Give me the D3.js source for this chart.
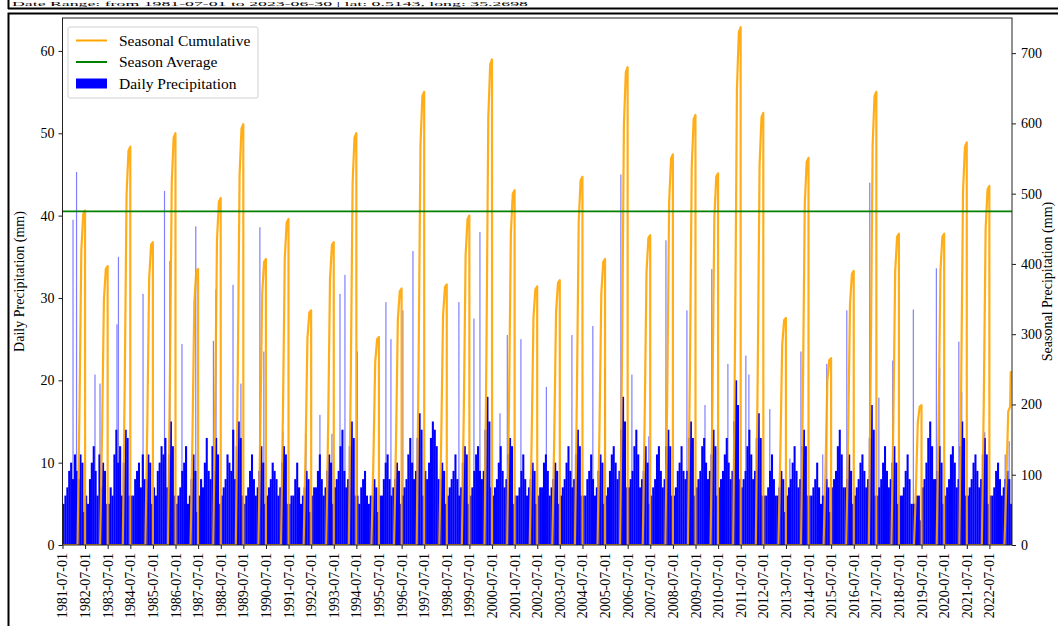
<!DOCTYPE html>
<html>
<head>
<meta charset="utf-8">
<script src="https://cdn.jsdelivr.net/npm/d3@7"></script>
<style>
  body { margin: 0; background: #fff; }
  svg { display: block; }
  text { font-family: "Liberation Serif", "Times New Roman", serif; fill: #000; }
</style>
</head>
<body>
<svg id="chart" width="1058" height="626"></svg>
<script>
// Seasonal (Mar-Jun) cumulative precipitation, mm; each season resets on 1 July of its year
const seasonYears = [1982,1983,1984,1985,1986,1987,1988,1989,1990,1991,1992,1993,1994,1995,1996,1997,1998,1999,2000,2001,2002,2003,2004,2005,2006,2007,2008,2009,2010,2011,2012,2013,2014,2015,2016,2017,2018,2019,2020,2021,2022];
const cumEndMar = [190,159,227,172,234,157,198,240,163,186,134,172,234,118,146,258,148,188,276,202,147,151,210,163,272,176,222,245,212,295,246,129,220,106,156,258,177,80,177,229,204];
const cumEndApr = [419,349,499,379,516,346,435,527,358,408,294,379,516,260,321,568,326,413,608,444,324,332,461,358,598,388,489,539,466,649,541,284,485,234,343,568,390,175,390,504,450];
const cumEndMay = [471,393,561,427,580,389,489,593,403,459,331,427,580,293,361,639,367,464,684,500,364,373,519,403,673,437,550,606,524,730,609,320,545,263,386,639,439,197,439,567,506];
const seasonTotals = [476,397,567,431,586,393,494,599,407,464,334,431,586,296,365,645,371,469,691,505,368,377,524,407,680,441,556,612,529,737,615,323,551,266,390,645,443,199,443,573,511];
// 2023 season, where the record stops at the end of June
const lastSeason = { endMar: 90, endApr: 190, endMay: 197, midJun: 246, total: 246 };

// Densest daily precipitation per month, mm (rows: Jul..Jun hydrological years 1981/82 .. 2022/23)
const monthlyBulk = [
  [5,6,7,9,10,8,11,9,8,11,10,4],
  [6,5,8,10,12,9,6,11,7,10,9,5],
  [5,7,6,11,14,10,12,6,10,14,13,6],
  [6,6,8,9,10,7,11,8,8,11,10,5],
  [7,6,9,10,12,11,13,7,11,15,12,6],
  [5,6,7,9,10,12,5,6,8,11,9,4],
  [6,8,7,10,13,9,8,12,9,13,11,5],
  [6,7,8,11,10,9,14,8,12,15,13,6],
  [5,6,7,9,11,8,6,7,9,12,10,5],
  [6,7,8,10,9,8,6,7,10,12,11,5],
  [5,6,6,8,10,7,5,6,7,9,8,4],
  [6,7,7,9,11,8,6,7,9,11,10,5],
  [7,8,9,12,14,9,7,8,12,15,13,6],
  [6,5,7,8,9,6,5,6,6,8,7,4],
  [6,6,8,10,11,8,6,7,8,10,9,5],
  [6,7,8,11,13,10,8,9,13,16,14,6],
  [9,8,10,13,15,14,12,8,8,10,9,5],
  [6,7,8,9,11,8,6,7,10,12,11,5],
  [6,7,9,11,12,9,8,9,14,18,15,7],
  [6,7,8,10,12,9,7,8,11,13,12,5],
  [6,6,7,9,11,8,6,7,8,10,9,5],
  [6,7,7,10,11,9,6,7,8,10,9,5],
  [6,7,8,10,12,9,7,8,11,14,12,6],
  [6,6,8,9,11,8,6,7,9,11,10,5],
  [6,7,9,11,12,10,8,9,14,18,15,7],
  [7,8,9,12,14,11,7,8,9,12,10,5],
  [6,7,8,11,12,9,7,8,12,14,12,6],
  [6,7,9,10,12,9,8,9,13,15,13,6],
  [7,8,9,12,13,10,8,9,11,14,12,6],
  [7,8,9,11,13,10,8,9,15,20,17,8],
  [7,8,9,12,14,11,8,9,13,16,13,6],
  [6,6,7,9,11,8,6,6,7,9,8,4],
  [6,7,8,10,12,9,7,8,12,14,12,6],
  [6,6,7,8,10,7,5,6,6,8,7,4],
  [7,8,9,12,14,11,7,7,8,11,9,5],
  [6,7,8,10,11,9,7,8,13,17,14,6],
  [6,7,8,10,12,9,7,8,10,12,10,5],
  [6,6,7,9,11,8,5,5,5,6,6,3],
  [7,8,10,13,15,12,8,8,9,12,10,5],
  [6,7,8,11,12,10,7,8,12,15,13,6],
  [6,7,8,10,11,9,7,8,11,13,11,5],
  [6,6,7,9,10,8,6,7,8,9,8,5]
];

// Heaviest single days, mm
const stormDates = ["1981-12-18","1982-02-13","1982-12-08","1983-02-27","1983-11-28","1983-12-22","1985-01-22","1986-01-04","1986-04-01","1986-10-13","1987-05-24","1988-03-04","1988-04-15","1989-01-15","1989-05-22","1990-03-25","1990-05-28","1991-04-01","1992-04-06","1992-11-19","1993-06-01","1993-10-09","1993-12-28","1994-07-16","1995-10-21","1996-01-10","1996-07-21","1996-12-31","1999-01-12","1999-09-12","1999-12-18","2000-11-06","2001-03-04","2001-10-10","2002-11-25","2004-01-12","2004-12-15","2005-06-28","2006-03-13","2006-09-07","2007-06-07","2008-03-10","2009-02-12","2009-12-01","2010-03-21","2010-12-06","2011-09-22","2011-11-10","2012-10-13","2013-09-03","2014-02-28","2015-02-15","2015-04-21","2016-03-10","2017-03-16","2017-08-10","2018-03-22","2019-02-18","2020-02-25","2020-04-19","2021-02-22","2021-04-10","2022-04-16","2023-03-13","2023-05-16"];
const stormValues = [39.5,45.3,20.7,19.6,26.8,35,30.5,43,34.5,24.4,38.7,24.8,31,31.6,19.6,38.6,23.5,13.8,13.6,15.8,13.5,30.5,32.8,23.5,29.5,25,28.5,35.7,29.5,27.5,38,16,25.5,25,19.2,25.5,26.6,21.5,45,20.7,13.2,37,28.5,17,33.5,22,23,20.7,16.5,10.5,23.5,11,22,28.5,44,17.9,22.4,28.6,33.6,21.5,24.7,18.6,13.7,11,12.6];

// Axis tick labels
const leftTicks = [0,10,20,30,40,50,60];
const rightTicks = [0,100,200,300,400,500,600,700];
const xTickYears = [1981,1982,1983,1984,1985,1986,1987,1988,1989,1990,1991,1992,1993,1994,1995,1996,1997,1998,1999,2000,2001,2002,2003,2004,2005,2006,2007,2008,2009,2010,2011,2012,2013,2014,2015,2016,2017,2018,2019,2020,2021,2022];

const titleText = "Date Range: from 1981-07-01 to 2023-06-30 | lat: 0.5143, long: 35.2698";

const svg = d3.select("#chart");
const W = 1058, H = 626;
const m = { left: 62.5, right: 1012, top: 18, bottom: 545 };

const parse = d3.timeParse("%Y-%m-%d");
const x = d3.scaleTime()
  .domain([new Date(1981, 6, 1), new Date(2023, 6, 1)])
  .range([m.left, m.right]);
const yL = d3.scaleLinear().domain([0, 64]).range([m.bottom, m.top]);
const yR = d3.scaleLinear().domain([0, 750]).range([m.bottom, m.top]);

// frame around the title strip and the figure
svg.append("line").attr("x1", 8).attr("x2", W).attr("y1", 8.5).attr("y2", 8.5)
  .attr("stroke", "#000").attr("stroke-width", 2);
svg.append("line").attr("x1", 8.5).attr("x2", 8.5).attr("y1", 0).attr("y2", 9)
  .attr("stroke", "#000").attr("stroke-width", 2);
svg.append("rect").attr("x", 8.5).attr("y", 13.5).attr("width", W).attr("height", H)
  .attr("fill", "none").attr("stroke", "#000").attr("stroke-width", 2);

svg.append("text").attr("x", 12).attr("y", 5.6)
  .attr("textLength", 516).attr("lengthAdjust", "spacingAndGlyphs")
  .style("font-size", "6.3px").text(titleText);

const clipId = "plotClip";
svg.append("clipPath").attr("id", clipId).append("rect")
  .attr("x", m.left).attr("y", m.top).attr("width", m.right - m.left).attr("height", m.bottom - m.top);
const plot = svg.append("g").attr("clip-path", `url(#${clipId})`);

// daily precipitation: dense monthly mass plus the heaviest single days
const bulk = [];
monthlyBulk.forEach((row, r) => row.forEach((v, k) => {
  bulk.push({ start: new Date(1981 + r, 6 + k, 1), end: new Date(1981 + r, 7 + k, 1), v });
}));
plot.append("g").selectAll("rect").data(bulk).join("rect")
  .attr("x", d => x(d.start))
  .attr("width", d => x(d.end) - x(d.start) + 0.2)
  .attr("y", d => yL(d.v))
  .attr("height", d => yL(0) - yL(d.v))
  .attr("fill", "#0000ff");

const storms = stormDates.map((d, i) => ({ date: parse(d), v: stormValues[i] }));
plot.append("g").selectAll("rect").data(storms).join("rect")
  .attr("x", d => x(d.date) - 0.6)
  .attr("width", 1.2)
  .attr("y", d => yL(d.v))
  .attr("height", d => yL(0) - yL(d.v))
  .attr("fill", "#0000ff")
  .attr("fill-opacity", 0.5);

// cumulative line: zero outside the season, rising Mar-Jun, reset on 1 July
const cumPts = [{ date: new Date(1981, 6, 1), v: 0 }];
seasonYears.forEach((yr, i) => {
  cumPts.push({ date: new Date(yr, 2, 1), v: 0 });
  cumPts.push({ date: new Date(yr, 3, 1), v: cumEndMar[i] });
  cumPts.push({ date: new Date(yr, 4, 1), v: cumEndApr[i] });
  cumPts.push({ date: new Date(yr, 5, 1), v: cumEndMay[i] });
  cumPts.push({ date: new Date(yr, 5, 30), v: seasonTotals[i] });
  cumPts.push({ date: new Date(yr, 6, 1), v: 0 });
});
cumPts.push({ date: new Date(2023, 2, 1), v: 0 });
cumPts.push({ date: new Date(2023, 3, 1), v: lastSeason.endMar });
cumPts.push({ date: new Date(2023, 4, 1), v: lastSeason.endApr });
cumPts.push({ date: new Date(2023, 5, 1), v: lastSeason.endMay });
cumPts.push({ date: new Date(2023, 5, 10), v: lastSeason.midJun });
cumPts.push({ date: new Date(2023, 5, 30), v: lastSeason.total });

const seasonAvg = d3.mean(seasonTotals.concat([lastSeason.total]));

plot.append("path").datum(cumPts)
  .attr("d", d3.line().x(d => x(d.date)).y(d => yR(d.v)))
  .attr("fill", "none").attr("stroke", "#ffa500").attr("stroke-width", 2.2)
  .attr("stroke-opacity", 0.9)
  .attr("stroke-linejoin", "round");

plot.append("line")
  .attr("x1", m.left).attr("x2", m.right)
  .attr("y1", yR(seasonAvg)).attr("y2", yR(seasonAvg))
  .attr("stroke", "#008000").attr("stroke-width", 1.6);

// axes
const fs = "14px";
const axL = svg.append("g").attr("transform", `translate(${m.left},0)`)
  .call(d3.axisLeft(yL).tickValues(leftTicks).tickSize(4).tickPadding(4));
const axR = svg.append("g").attr("transform", `translate(${m.right},0)`)
  .call(d3.axisRight(yR).tickValues(rightTicks).tickSize(4).tickPadding(5));
const axB = svg.append("g").attr("transform", `translate(0,${m.bottom})`)
  .call(d3.axisBottom(x).tickValues(xTickYears.map(yr => new Date(yr, 6, 1)))
    .tickFormat(d3.timeFormat("%Y-%m-%d")).tickSize(4).tickPadding(4));
[axL, axR, axB].forEach(a => {
  a.select(".domain").remove();
  a.selectAll("line").attr("stroke", "#000").attr("stroke-width", 0.9);
  a.selectAll("text").style("font-size", fs).attr("fill", "#000")
    .style("font-family", '"Liberation Serif", serif');
});
axB.selectAll(".tick text")
  .attr("x", 0).attr("y", 0)
  .attr("text-anchor", "end")
  .attr("transform", "translate(0,8) rotate(-90)")
  .attr("dy", "0.32em").attr("dx", 0);

svg.append("rect").attr("x", m.left).attr("y", m.top)
  .attr("width", m.right - m.left).attr("height", m.bottom - m.top)
  .attr("fill", "none").attr("stroke", "#222").attr("stroke-width", 1);

svg.append("text")
  .attr("transform", `translate(24,${(m.top + m.bottom) / 2}) rotate(-90)`)
  .attr("text-anchor", "middle").style("font-size", fs)
  .text("Daily Precipitation (mm)");
svg.append("text")
  .attr("transform", `translate(1052,${(m.top + m.bottom) / 2}) rotate(-90)`)
  .attr("text-anchor", "middle").style("font-size", fs)
  .text("Seasonal Precipitation (mm)");

// legend
const lg = svg.append("g").attr("transform", "translate(68,27)");
lg.append("rect").attr("x", 0).attr("y", 0).attr("width", 190).attr("height", 71)
  .attr("rx", 2).attr("fill", "#fff").attr("fill-opacity", 0.8)
  .attr("stroke", "#d0d0d0").attr("stroke-width", 1);
const items = [
  { label: "Seasonal Cumulative", kind: "line", color: "#ffa500" },
  { label: "Season Average", kind: "line", color: "#008000" },
  { label: "Daily Precipitation", kind: "rect", color: "#0000ff" }
];
items.forEach((it, i) => {
  const cy = 13.5 + i * 21.5;
  if (it.kind === "line") {
    lg.append("line").attr("x1", 8).attr("x2", 39).attr("y1", cy).attr("y2", cy)
      .attr("stroke", it.color).attr("stroke-width", 2);
  } else {
    lg.append("rect").attr("x", 8).attr("y", cy - 5).attr("width", 31).attr("height", 10)
      .attr("fill", it.color);
  }
  lg.append("text").attr("x", 51).attr("y", cy).attr("dy", "0.35em")
    .style("font-size", "15.5px").text(it.label);
});
</script>
</body>
</html>
